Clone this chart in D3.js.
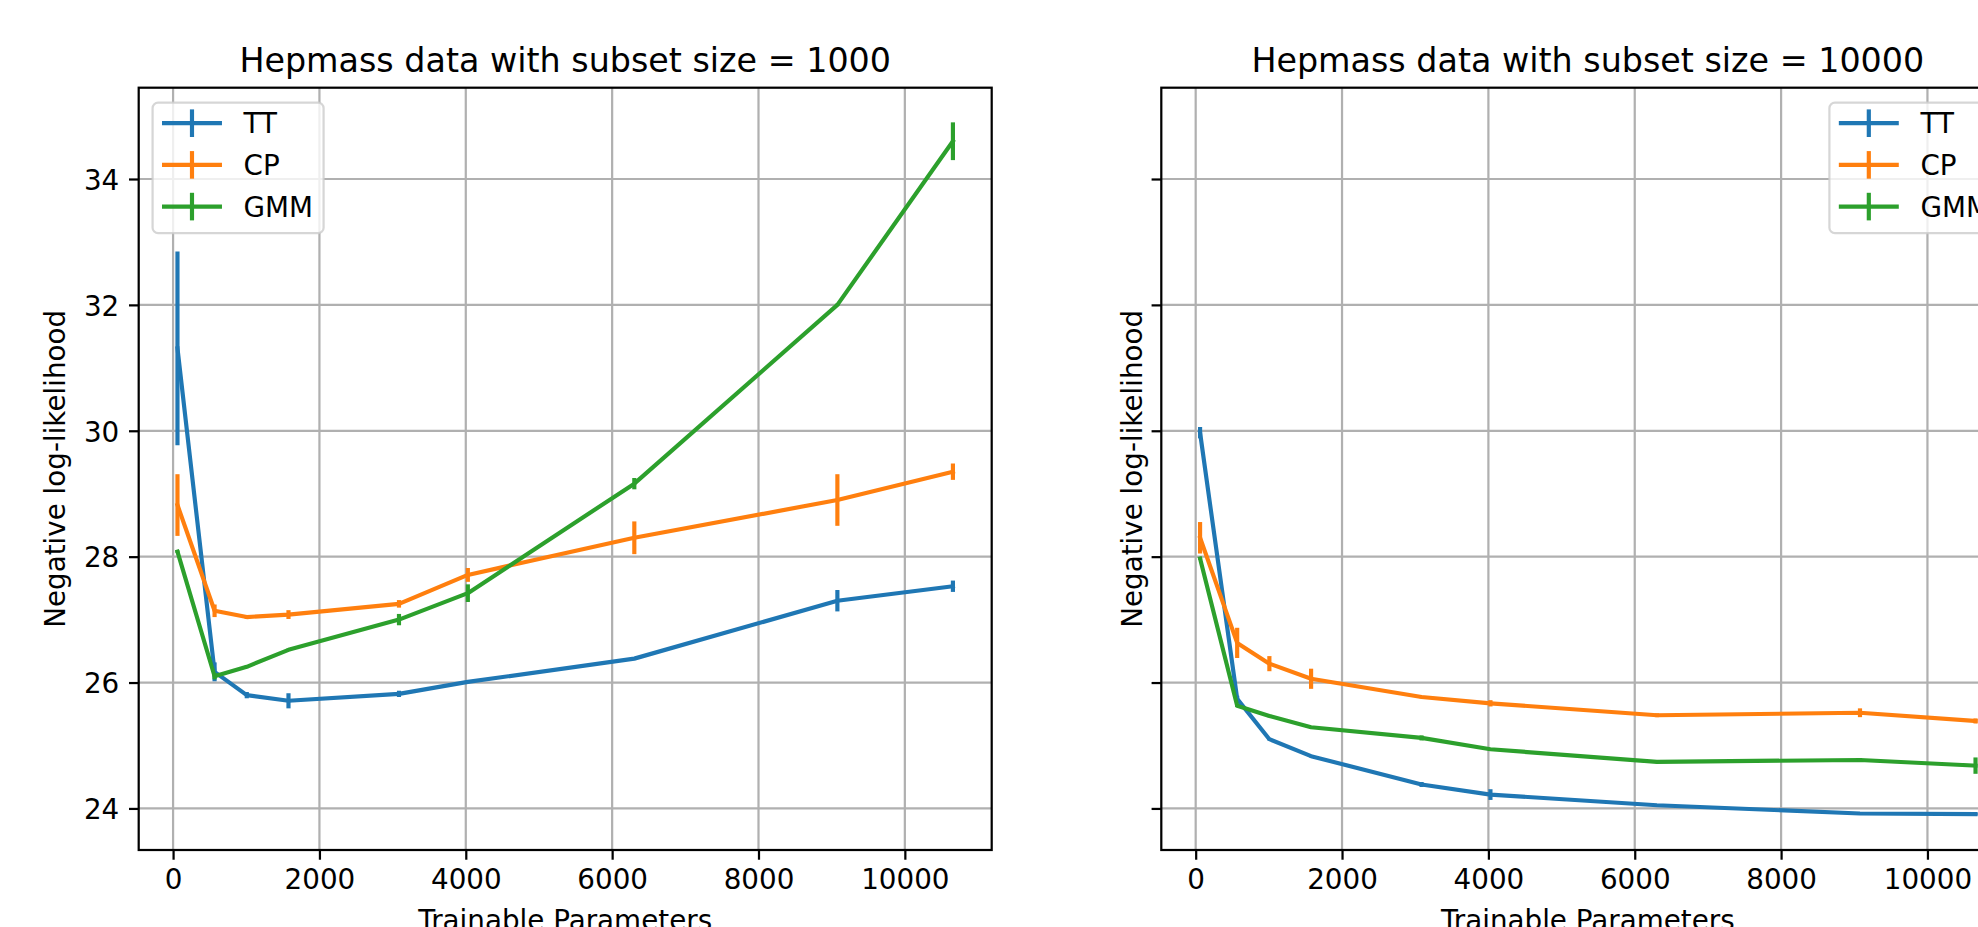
<!DOCTYPE html>
<html>
<head>
<meta charset="utf-8">
<script src="https://cdn.jsdelivr.net/npm/d3@7"></script>
<style>
  body { margin: 0; background: #fff; overflow: hidden; }
  svg { display: block; font-family: "DejaVu Sans", sans-serif; }
</style>
</head>
<body>
<svg id="chart" width="1978" height="927"></svg>
<script>
// trainable parameters (x), shared by every series
const params = [60, 567, 1007, 1577, 3087, 4028, 6303, 9078, 10657]
const models = ['TT', 'CP', 'GMM']

// subset size = 1000
const tt1000 = [31.31, 26.17, 25.80, 25.71, 25.82, 26.01, 26.38, 27.30, 27.53]
const tt1000Err = [1.54, 0.15, 0.05, 0.12, 0.05, 0.02, 0.02, 0.17, 0.09]
const cp1000 = [28.82, 27.14, 27.04, 27.08, 27.25, 27.71, 28.30, 28.90, 29.35]
const cp1000Err = [0.49, 0.10, 0.03, 0.07, 0.06, 0.11, 0.26, 0.41, 0.13]
const gmm1000 = [28.08, 26.10, 26.25, 26.52, 27.00, 27.42, 29.16, 32.00, 34.60]
const gmm1000Err = [0.02, 0.05, 0.02, 0.02, 0.09, 0.14, 0.09, 0.02, 0.30]

// subset size = 10000
const tt10000 = [29.97, 25.74, 25.10, 24.83, 24.38, 24.22, 24.05, 23.92, 23.91]
const tt10000Err = [0.09, 0.05, 0.02, 0.02, 0.04, 0.085, 0.02, 0.02, 0.02]
const cp10000 = [28.30, 26.63, 26.30, 26.06, 25.77, 25.67, 25.48, 25.52, 25.39]
const cp10000Err = [0.25, 0.24, 0.12, 0.16, 0.02, 0.05, 0.03, 0.07, 0.04]
const gmm10000 = [27.97, 25.63, 25.47, 25.29, 25.12, 24.94, 24.74, 24.77, 24.68]
const gmm10000Err = [0.02, 0.02, 0.02, 0.02, 0.04, 0.02, 0.02, 0.03, 0.13]

const xTicks = [0, 2000, 4000, 6000, 8000, 10000]
const yTicks = [24, 26, 28, 30, 32, 34]

const pt = 200 / 72          // matplotlib points -> px at 200 dpi
const fs = 10 * pt
const lw = 1.5 * pt
const thin = 0.8 * pt
const colors = ['#1f77b4', '#ff7f0e', '#2ca02c']

const axTop = 87.7, height = 762.3, width = 853

const panels = [
    {
        left: 138.7,
        title: 'Hepmass data with subset size = 1000',
        means: [tt1000, cp1000, gmm1000],
        errs: [tt1000Err, cp1000Err, gmm1000Err],
        yLabels: true, ylabelX: -73.7, legendRight: false
    },
    {
        left: 1161.3,
        title: 'Hepmass data with subset size = 10000',
        means: [tt10000, cp10000, gmm10000],
        errs: [tt10000Err, cp10000Err, gmm10000Err],
        yLabels: false, ylabelX: -19.3, legendRight: true
    }
]

// autoscale like matplotlib: data extent (with error bars) plus 5% margins, shared y
let lo = Infinity, hi = -Infinity
panels.forEach(p => p.means.forEach((m, i) => m.forEach((v, j) => {
    lo = Math.min(lo, v - p.errs[i][j])
    hi = Math.max(hi, v + p.errs[i][j])
})))
const xExt = d3.extent(params)
const xPad = (xExt[1] - xExt[0]) * 0.05
const yPad = (hi - lo) * 0.05

const x = d3.scaleLinear().domain([xExt[0] - xPad, xExt[1] + xPad]).range([0, width])
const y = d3.scaleLinear().domain([lo - yPad, hi + yPad]).range([height, 0])

const svg = d3.select('#chart')

panels.forEach(p => {
    const g = svg.append('g').attr('transform', `translate(${p.left},${axTop})`)

    // grid
    g.append('g').selectAll('line').data(xTicks).join('line')
        .attr('x1', d => x(d)).attr('x2', d => x(d))
        .attr('y1', 0).attr('y2', height)
        .attr('stroke', '#b0b0b0').attr('stroke-width', thin)
    g.append('g').selectAll('line').data(yTicks).join('line')
        .attr('x1', 0).attr('x2', width)
        .attr('y1', d => y(d)).attr('y2', d => y(d))
        .attr('stroke', '#b0b0b0').attr('stroke-width', thin)

    // series: line, then vertical error bars
    const line = d3.line().x((d, i) => x(params[i])).y(d => y(d))
    p.means.forEach((m, i) => {
        const s = g.append('g')
        s.append('path')
            .attr('d', line(m))
            .attr('fill', 'none')
            .attr('stroke', colors[i])
            .attr('stroke-width', lw)
            .attr('stroke-linejoin', 'round')
            .attr('stroke-linecap', 'square')
        s.selectAll('line').data(m).join('line')
            .attr('x1', (d, j) => x(params[j])).attr('x2', (d, j) => x(params[j]))
            .attr('y1', (d, j) => y(d - p.errs[i][j]))
            .attr('y2', (d, j) => y(d + p.errs[i][j]))
            .attr('stroke', colors[i])
            .attr('stroke-width', lw)
    })

    // axes
    const xAxis = g.append('g')
        .attr('transform', `translate(0,${height})`)
        .call(d3.axisBottom(x).tickValues(xTicks).tickFormat(d3.format('d'))
            .tickSize(3.5 * pt).tickPadding(3.5 * pt).tickSizeOuter(0))
    const yAxis = g.append('g')
        .call(d3.axisLeft(y).tickValues(yTicks)
            .tickFormat(p.yLabels ? d3.format('d') : () => '')
            .tickSize(3.5 * pt).tickPadding(3.5 * pt).tickSizeOuter(0))
    ;[xAxis, yAxis].forEach(a => {
        a.select('.domain').remove()
        a.selectAll('.tick line').attr('stroke', '#000').attr('stroke-width', thin)
        a.selectAll('.tick text')
            .attr('fill', '#000')
            .style('font-family', '"DejaVu Sans", sans-serif')
            .style('font-size', fs + 'px')
    })
    yAxis.selectAll('.tick text').attr('dy', '0.37em')

    // spines
    g.append('rect')
        .attr('width', width).attr('height', height)
        .attr('fill', 'none').attr('stroke', '#000').attr('stroke-width', thin)

    // titles / labels
    g.append('text')
        .attr('x', width / 2).attr('y', -16.2)
        .attr('text-anchor', 'middle')
        .style('font-size', (12 * pt) + 'px')
        .text(p.title)
    g.append('text')
        .attr('x', width / 2).attr('y', height + 80.5)
        .attr('text-anchor', 'middle')
        .style('font-size', fs + 'px')
        .text('Trainable Parameters')
    g.append('text')
        .attr('transform', `translate(${p.ylabelX},${height / 2}) rotate(-90)`)
        .attr('text-anchor', 'middle')
        .style('font-size', fs + 'px')
        .text('Negative log-likelihood')

    // legend
    const lgW = 171, lgH = 130.6, pad = 0.5 * fs
    const lgX = p.legendRight ? width - pad - lgW : pad
    const lg = g.append('g').attr('transform', `translate(${lgX},${pad + 1})`)
    lg.append('rect')
        .attr('width', lgW).attr('height', lgH)
        .attr('rx', 0.2 * fs).attr('ry', 0.2 * fs)
        .attr('fill', 'rgba(255,255,255,0.8)')
        .attr('stroke', 'rgba(204,204,204,0.8)')
        .attr('stroke-width', thin)
    models.forEach((name, i) => {
        const cy = 20.6 + i * 41.7
        lg.append('line')
            .attr('x1', 11.5).attr('x2', 67.3).attr('y1', cy).attr('y2', cy)
            .attr('stroke', colors[i]).attr('stroke-width', lw).attr('stroke-linecap', 'square')
        lg.append('line')
            .attr('x1', 39.4).attr('x2', 39.4).attr('y1', cy - 13.8).attr('y2', cy + 13.8)
            .attr('stroke', colors[i]).attr('stroke-width', lw)
        lg.append('text')
            .attr('x', 91).attr('y', cy + 10)
            .style('font-size', fs + 'px')
            .text(name)
    })
})
</script>
</body>
</html>
